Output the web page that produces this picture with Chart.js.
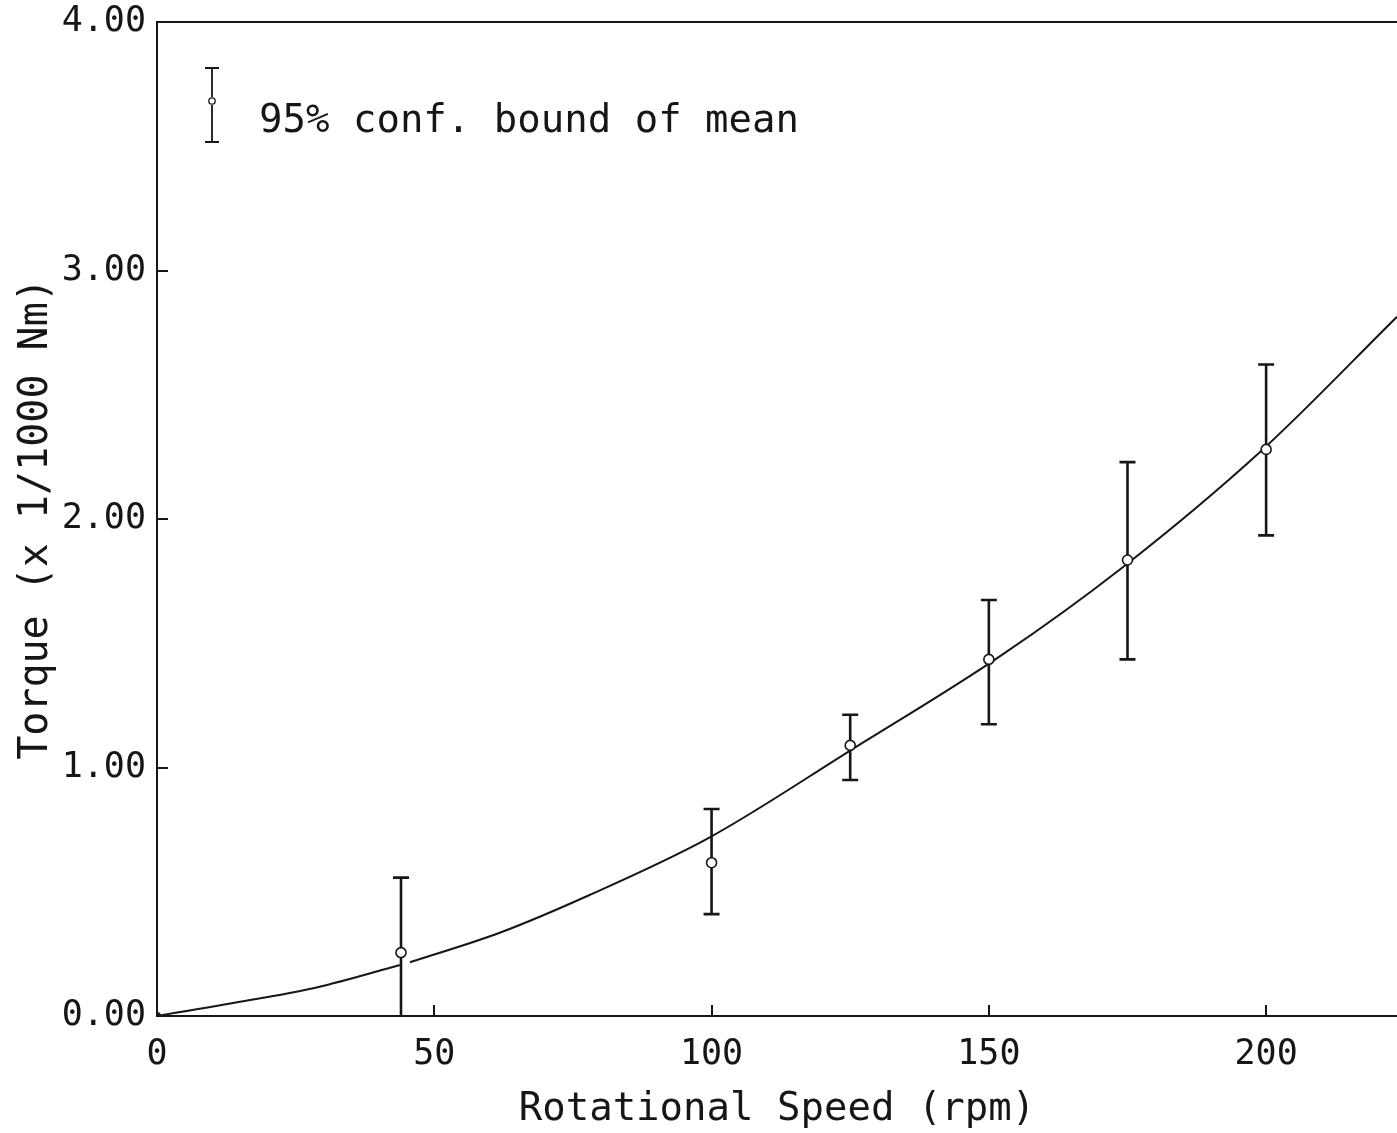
<!DOCTYPE html>
<html><head><meta charset="utf-8">
<script src="https://cdn.jsdelivr.net/npm/chart.js@4.4.1/dist/chart.umd.min.js"></script>
<style>html,body{margin:0;padding:0;background:#fff;overflow:hidden}#wrap{width:1397px;height:1133px}</style>
</head><body><div id="wrap"><canvas id="c" width="1397" height="1133"></canvas></div>
<script>
// ---- data ----
const speeds      = [44, 100, 125, 150, 175, 200];
const meanTorque  = [0.255, 0.617, 1.089, 1.435, 1.835, 2.280];
const lowerBound  = [0.000, 0.410, 0.950, 1.174, 1.435, 1.934];
const upperBound  = [0.557, 0.833, 1.212, 1.674, 2.229, 2.622];
const fitSpeed    = [0, 16.8, 28.8, 43.8, 44.7, 45.6, 61.8, 78.0, 99.6, 125.0, 151.9, 173.8, 199.3, 223.6];
const fitTorque   = [0, 0.064, 0.115, 0.205, null, 0.216, 0.335, 0.487, 0.718, 1.068, 1.446, 1.800, 2.278, 2.814];
const xTickValues = [0, 50, 100, 150, 200];
const yTickValues = [0, 1, 2, 3, 4];
const xTitle = 'Rotational Speed (rpm)';
const yTitle = 'Torque (x 1/1000 Nm)';
const legendLabel = '95% conf. bound of mean';

const INK = '#161616';
const monoFont = '"DejaVu Sans Mono", monospace';

const errorBars = {
  id: 'errorBars',
  beforeDatasetsDraw(chart) {
    const {ctx, scales: {x, y}} = chart;
    ctx.save();
    ctx.strokeStyle = INK;
    ctx.lineWidth = 2.6;
    speeds.forEach((s, i) => {
      const px = x.getPixelForValue(s);
      const top = y.getPixelForValue(upperBound[i]);
      const bot = y.getPixelForValue(lowerBound[i]);
      ctx.beginPath();
      ctx.moveTo(px, top); ctx.lineTo(px, bot);
      ctx.moveTo(px - 8, top); ctx.lineTo(px + 8, top);
      if (lowerBound[i] > 0) { ctx.moveTo(px - 8, bot); ctx.lineTo(px + 8, bot); }
      ctx.stroke();
    });
    ctx.restore();
  }
};

const legendNote = {
  id: 'legendNote',
  afterDraw(chart) {
    const c = chart.ctx;
    c.save();
    c.strokeStyle = INK;
    c.lineWidth = 1.8;
    const lx = 212, t = 68, b = 142, m = 101;
    c.beginPath();
    c.moveTo(lx, t); c.lineTo(lx, m - 4);
    c.moveTo(lx, m + 4); c.lineTo(lx, b);
    c.moveTo(lx - 7, t); c.lineTo(lx + 7, t);
    c.moveTo(lx - 7, b); c.lineTo(lx + 7, b);
    c.stroke();
    c.beginPath(); c.lineWidth = 1.3; c.arc(lx, m, 3.2, 0, Math.PI * 2); c.stroke();
    c.fillStyle = INK;
    c.font = '39px ' + monoFont;
    c.textBaseline = 'alphabetic';
    c.textAlign = 'left';
    c.fillText(legendLabel, 259, 132);
    c.restore();
  }
};

new Chart(document.getElementById('c'), {
  type: 'scatter',
  data: {
    datasets: [
      {
        label: 'fit',
        data: fitSpeed.map((s, i) => ({x: s, y: fitTorque[i]})),
        showLine: true,
        spanGaps: false,
        borderColor: INK,
        borderWidth: 2,
        pointRadius: 0,
        cubicInterpolationMode: 'monotone',
        order: 3
      },
      {
        label: 'mean',
        data: speeds.map((s, i) => ({x: s, y: meanTorque[i]})),
        showLine: false,
        pointRadius: 5,
        pointBorderWidth: 1.6,
        pointBorderColor: INK,
        pointBackgroundColor: '#ffffff',
        order: 2
      },
      {
        label: 'origin',
        data: [{x: 0, y: 0}],
        showLine: false,
        pointRadius: 4,
        pointBorderWidth: 0,
        pointBackgroundColor: INK,
        order: 1
      }
    ]
  },
  options: {
    responsive: false,
    animation: false,
    devicePixelRatio: 1,
    layout: {autoPadding: false, padding: {top: 22, left: 0, right: 0, bottom: 0}},
    plugins: {legend: {display: false}, tooltip: {enabled: false}},
    scales: {
      x: {
        type: 'linear', position: 'bottom', min: 0, max: 223.6,
        afterBuildTicks: s => { s.ticks = xTickValues.map(v => ({value: v})); },
        afterFit: s => { s.height = 117; s.paddingLeft = 0; s.paddingRight = 0; },
        ticks: {
          color: INK, padding: 29, maxRotation: 0, autoSkip: false,
          font: {family: monoFont, size: 35},
          callback: v => String(v)
        },
        grid: {drawOnChartArea: false, drawTicks: true, tickLength: -11, color: INK, lineWidth: 2},
        border: {display: true, color: INK, width: 2},
        title: {display: true, text: xTitle, color: INK, font: {family: monoFont, size: 39}, padding: {top: 0, bottom: 0}}
      },
      x2: {
        type: 'linear', position: 'top', min: 0, max: 1,
        afterFit: s => { s.height = 0; s.paddingLeft = 0; s.paddingRight = 0; },
        ticks: {display: false},
        grid: {display: false, drawTicks: false},
        border: {display: true, color: INK, width: 2}
      },
      y: {
        type: 'linear', position: 'left', min: 0, max: 4,
        afterBuildTicks: s => { s.ticks = yTickValues.map(v => ({value: v})); },
        afterFit: s => { s.width = 157; s.paddingTop = 0; s.paddingBottom = 0; },
        ticks: {
          color: INK, padding: 22, autoSkip: false,
          font: {family: monoFont, size: 35},
          callback: v => Number(v).toFixed(2)
        },
        grid: {drawOnChartArea: false, drawTicks: true, tickLength: -11, color: INK, lineWidth: 2},
        border: {display: true, color: INK, width: 2},
        title: {display: true, text: yTitle, color: INK, font: {family: monoFont, size: 40}, padding: {top: 13, bottom: 0}}
      }
    }
  },
  plugins: [errorBars, legendNote]
});
</script>
</body></html>
